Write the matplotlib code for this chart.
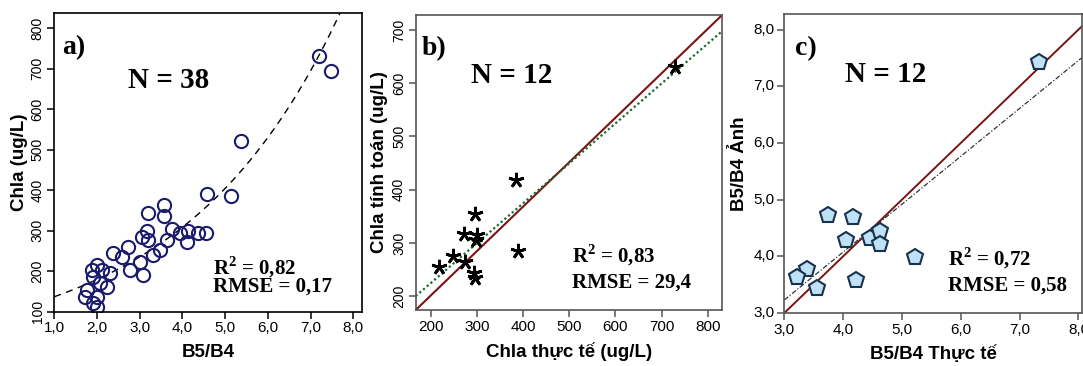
import numpy as np
import matplotlib
matplotlib.use("Agg")
import matplotlib.pyplot as plt
from matplotlib.ticker import FuncFormatter

# ---------------- data ----------------
# Panel a: B5/B4 ratio vs Chla (N = 38)
a_x = [7.19, 7.48, 5.38, 4.57, 5.13,
       3.57, 3.19, 3.57, 3.75, 3.18, 3.94, 4.14, 4.37, 4.55, 4.10, 3.05, 3.20,
       3.63, 3.48, 3.32, 2.73, 2.38, 2.58, 3.01, 2.77, 3.08,
       1.99, 1.88, 2.11, 2.30, 1.91, 2.07, 2.23, 1.76, 1.72, 1.99, 1.91, 2.00]
a_y = [732, 693, 522, 390, 386,
       363, 344, 335, 303, 300, 295, 298, 295, 295, 273, 285, 277,
       277, 252, 240, 260, 246, 236, 223, 203, 191,
       215, 203, 203, 195, 186, 170, 162, 154, 137, 137, 121, 112]
a_fit_a = 104.5     # exponential fit  y = a * exp(b * x)
a_fit_b = 0.2705

# Panel b: measured vs computed Chla (N = 12)
b_x = [729, 384, 295, 272, 300, 298, 247, 217, 274, 294, 295, 389]
b_y = [631, 419, 355, 317, 315, 305, 275, 254, 264, 243, 235, 285]
b_ref_slope = 0.834      # dark red reference line
b_ref_icpt = 34.7
b_fit_slope = 0.749      # green dotted fit line
b_fit_icpt = 75.0

# Panel c: measured vs image B5/B4 (N = 12)
c_x = [7.33, 3.74, 4.17, 4.05, 4.45, 4.62, 4.63, 5.23, 4.22, 3.38, 3.21, 3.55]
c_y = [7.42, 4.73, 4.70, 4.28, 4.33, 4.45, 4.21, 3.98, 3.59, 3.77, 3.63, 3.44]
c_fit_slope = 0.845
c_fit_icpt = 0.695

a_xticks = [1, 2, 3, 4, 5, 6, 7, 8]
a_yticks = [100, 200, 300, 400, 500, 600, 700, 800]
b_xticks = [200, 300, 400, 500, 600, 700, 800]
b_yticks = [200, 300, 400, 500, 600, 700]
c_xticks = [3, 4, 5, 6, 7, 8]
c_yticks = [3, 4, 5, 6, 7, 8]

labels = {
    "a": ("a)", "N = 38", "R$^2$ = 0,82", "RMSE = 0,17", "B5/B4", "Chla (ug/L)"),
    "b": ("b)", "N = 12", "R$^2$ = 0,83", "RMSE = 29,4", "Chla thực tế (ug/L)", "Chla tính toán (ug/L)"),
    "c": ("c)", "N = 12", "R$^2$ = 0,72", "RMSE = 0,58", "B5/B4 Thực tế", "B5/B4 Ảnh"),
}

# ---------------- figure ----------------
W, H = 1083, 366
fig = plt.figure(figsize=(W / 100, H / 100), dpi=100)
SANS = "Liberation Sans"
SERIF = "Liberation Serif"
plt.rcParams["mathtext.fontset"] = "custom"
plt.rcParams["mathtext.rm"] = "Liberation Serif:bold"
plt.rcParams["mathtext.bf"] = "Liberation Serif:bold"


def add_axes_px(left, top, right, bottom):
    return fig.add_axes([left / W, (H - bottom) / H, (right - left) / W, (bottom - top) / H])


comma = FuncFormatter(lambda v, p: f"{v:.1f}".replace(".", ","))


def style(ax, spine_color, ytick_rot):
    for s in ax.spines.values():
        s.set_color(spine_color)
        s.set_linewidth(1.2)
    ax.tick_params(direction="out", length=5, width=1.1, color=spine_color, pad=2)
    for t in ax.get_xticklabels():
        t.set_fontfamily(SANS)
        t.set_fontsize(11)
    for t in ax.get_yticklabels():
        t.set_fontfamily(SANS)
        t.set_fontsize(ytick_rot[1])
        t.set_rotation(ytick_rot[0])
        t.set_va("center")


def texts(ax, key, pos):
    tag, n, r2, rmse, xl, yl = labels[key]
    ax.text(pos["tag"][0], pos["tag"][1], tag, transform=ax.transAxes, family=SERIF,
            weight="bold", fontsize=20, va="center", ha="left")
    ax.text(pos["n"][0], pos["n"][1], n, transform=ax.transAxes, family=SERIF,
            weight="bold", fontsize=21, va="center", ha="left")
    ax.text(pos["r2"][0], pos["r2"][1], r2, transform=ax.transAxes, family=SERIF,
            weight="bold", fontsize=15, va="baseline", ha="left")
    ax.text(pos["r2"][0], pos["r2"][1] - pos["gap"], rmse, transform=ax.transAxes, family=SERIF,
            weight="bold", fontsize=15, va="baseline", ha="left")
    ax.set_xlabel(xl, family=SANS, weight="bold", fontsize=13.5, labelpad=pos["xlp"])
    ax.set_ylabel(yl, family=SANS, weight="bold", fontsize=13.5, labelpad=pos["ylp"])


# ---- panel a ----
ax = add_axes_px(54.3, 13, 362, 311.7)
ax.set_xlim(1.0, 8.206)
ax.set_ylim(100, 837)
ax.set_xticks(a_xticks)
ax.set_yticks(a_yticks)
ax.xaxis.set_major_formatter(comma)
xs = np.linspace(1.0, 8.206, 200)
ax.plot(xs, a_fit_a * np.exp(a_fit_b * xs), color="black", lw=1.0, ls=(0, (5, 4)))
ax.plot(a_x, a_y, ls="none", marker="o", ms=9.5, mfc="none", mec="#1b1b6e", mew=1.5)
style(ax, "black", (90, 10))
texts(ax, "a", {"tag": (0.025, 0.885), "n": (0.24, 0.775), "r2": (0.515, 0.125),
                "gap": 0.058, "xlp": 6, "ylp": 2})

# ---- panel b ----
ax = add_axes_px(415.7, 15, 722, 310)
ax.set_xlim(167, 831)
ax.set_ylim(174, 728)
ax.set_xticks(b_xticks)
ax.set_yticks(b_yticks)
xs = np.array([167, 831])
ax.plot(xs, b_ref_slope * xs + b_ref_icpt, color="#7a1414", lw=1.5)
ax.plot(xs, b_fit_slope * xs + b_fit_icpt, color="#1d6b2e", lw=1.6, ls=(0, (1, 1.2)))
ax.plot(b_x, b_y, ls="none", marker=(5, 2, 0), ms=11, mec="black", mew=2.0)
style(ax, "#555555", (90, 10))
texts(ax, "b", {"tag": (0.02, 0.885), "n": (0.18, 0.795), "r2": (0.51, 0.16),
                "gap": 0.085, "xlp": 6, "ylp": 3})

# ---- panel c ----
ax = add_axes_px(784.3, 14.3, 1082, 313)
ax.set_xlim(3.0, 8.06)
ax.set_ylim(3.0, 8.27)
ax.set_xticks(c_xticks)
ax.set_yticks(c_yticks)
ax.xaxis.set_major_formatter(comma)
ax.yaxis.set_major_formatter(comma)
xs = np.array([3.0, 8.06])
ax.plot(xs, xs, color="#7a1414", lw=1.4)
ax.plot(xs, c_fit_slope * xs + c_fit_icpt, color="#333333", lw=0.9, ls=(0, (4, 1.5, 1, 1.5)))
ax.plot(c_x, c_y, ls="none", marker="p", ms=12, mfc="#bfe1f6", mec="#17324f", mew=1.5)
style(ax, "#555555", (0, 11))
texts(ax, "c", {"tag": (0.035, 0.885), "n": (0.205, 0.80), "r2": (0.55, 0.16),
                "gap": 0.085, "xlp": 6, "ylp": 4})

fig.savefig("out.png", dpi=100)
